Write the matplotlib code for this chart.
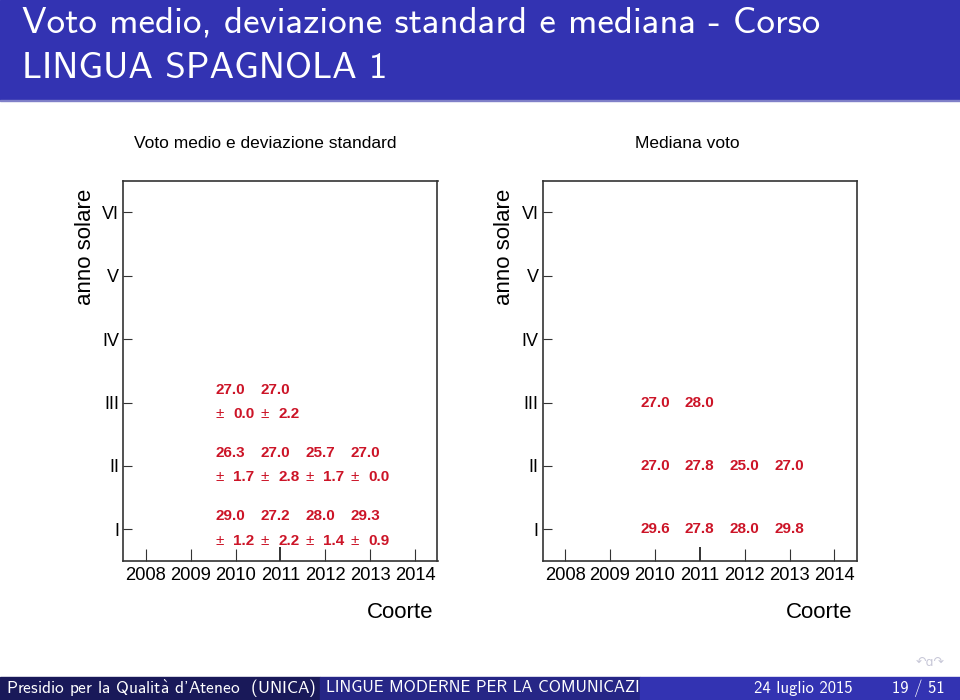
import matplotlib
matplotlib.use('Agg')
from matplotlib import pyplot as plt
from matplotlib.patches import Rectangle

# coorti e anni
coorti = [2008, 2009, 2010, 2011, 2012, 2013, 2014]
anni_label = ['I', 'II', 'III', 'IV', 'V', 'VI']

# voto medio e deviazione standard (coorte, anno)
media_coorte = [2010, 2011, 2010, 2011, 2012, 2013, 2010, 2011, 2012, 2013]
media_anno = [3, 3, 2, 2, 2, 2, 1, 1, 1, 1]
media_voto = [27.0, 27.0, 26.3, 27.0, 25.7, 27.0, 29.0, 27.2, 28.0, 29.3]
media_sd = [0.0, 2.2, 1.7, 2.8, 1.7, 0.0, 1.2, 2.2, 1.4, 0.9]

# mediana
mediana_voto = [27.0, 28.0, 27.0, 27.8, 25.0, 27.0, 29.6, 27.8, 28.0, 29.8]

ROSSO = '#CC1427'
W, H = 960, 700

plt.rcParams['font.family'] = ['Liberation Sans', 'DejaVu Sans']
plt.rcParams['mathtext.fontset'] = 'cm'

fig = plt.figure(figsize=(9.6, 7), dpi=100)

def fx(px):
    return px / W

def fy(py):
    return 1 - py / H

# intestazione beamer
fig.patches.append(Rectangle((0, fy(100)), 1, 100 / H, transform=fig.transFigure,
                             color='#3333B2', zorder=0))
fig.patches.append(Rectangle((0, fy(101)), 1, 1.5 / H, transform=fig.transFigure,
                             color='#8080C8', zorder=0))
titolo_font = ['cmss10', 'DejaVu Sans']
fig.text(fx(22), fy(23), 'Voto medio, deviazione standard e mediana - Corso',
         color='white', fontsize=26.6, family=titolo_font, va='center', ha='left')
fig.text(fx(22), fy(68), 'LINGUA SPAGNOLA 1',
         color='white', fontsize=26.6, family=titolo_font, va='center', ha='left')

# piè di pagina
fig.patches.append(Rectangle((0, 0), fx(320), 23 / H, transform=fig.transFigure,
                             color='#191959', zorder=0))
box_titolo = Rectangle((fx(320), 0), fx(320), 23 / H, transform=fig.transFigure,
                       color='#262686', zorder=0)
fig.patches.append(box_titolo)
fig.patches.append(Rectangle((fx(640), 0), fx(320), 23 / H, transform=fig.transFigure,
                             color='#3333B2', zorder=0))
fig.text(fx(6), fy(688), "Presidio per la Qualit$\\grave{\\mathsf{a}}$ d'Ateneo  (UNICA)",
         color='white', fontsize=12.5, family=titolo_font, va='center', ha='left')
t = fig.text(fx(326), fy(688), 'LINGUE MODERNE PER LA COMUNICAZIONE', color='white',
             fontsize=12, family=titolo_font, va='center', ha='left')
t.set_clip_path(box_titolo)
fig.text(fx(853), fy(688), '24 luglio 2015', color='white',
         fontsize=12, family=titolo_font, va='center', ha='right')
fig.text(fx(945), fy(688), '19 / 51', color='white',
         fontsize=12, family=titolo_font, va='center', ha='right')
fig.text(fx(930), fy(662), '↶ɑ↷', color='#C8C8D8', fontsize=9,
         family=['DejaVu Sans'], va='center', ha='center')


def pannello(left_px, titolo, titolo_cx, mediana):
    ax = fig.add_axes([fx(left_px), fy(561), 314.2 / W, 380.3 / H])
    ax.set_xlim(2007.5, 2014.5)
    ax.set_ylim(0.5, 6.5)
    ax.set_xticks(coorti)
    ax.set_xticklabels([str(c) for c in coorti])
    ax.set_yticks(range(1, 7))
    ax.set_yticklabels(anni_label)
    ax.tick_params(axis='x', direction='in', length=8.6, width=0.8, pad=4,
                   labelsize=13.2, color='#333333')
    ax.tick_params(axis='y', direction='in', length=6.5, width=0.8, pad=3,
                   labelsize=13, color='#333333')
    # il tick del 2011 appare piu' marcato
    tk = ax.xaxis.get_major_ticks()[3].tick1line
    tk.set_markeredgewidth(1.4)
    tk.set_markersize(10)
    tk.set_color('#111111')
    for s in ax.spines.values():
        s.set_linewidth(1.2)
        s.set_color('#333333')
    for i in range(len(media_coorte)):
        c = media_coorte[i]
        a = media_anno[i]
        if mediana:
            ax.text(c, a, f'{mediana_voto[i]:.1f}', color=ROSSO, fontsize=11,
                    fontweight='bold', ha='center', va='center')
        else:
            ax.text(c - 0.445, a + 0.205, f'{media_voto[i]:.1f}', color=ROSSO,
                    fontsize=11, fontweight='bold', ha='left', va='center')
            ax.text(c - 0.445, a - 0.18, '±', color=ROSSO, fontsize=11,
                    ha='left', va='center')
            ax.text(c - 0.045, a - 0.18, f'{media_sd[i]:.1f}', color=ROSSO,
                    fontsize=11, fontweight='bold', ha='left', va='center')
    fig.text(fx(titolo_cx), fy(144), titolo, fontsize=12.5, ha='center', va='center')
    fig.text(fx(left_px - 38), fy(247), 'anno solare', fontsize=16, rotation=90,
             ha='center', va='center')
    fig.text(fx(left_px + 310), fy(612), 'Coorte', fontsize=16, ha='right', va='center')
    return ax


pannello(123.3, 'Voto medio e deviazione standard', 265, False)
pannello(542.7, 'Mediana voto', 687, True)

fig.savefig('out.png', dpi=100)
